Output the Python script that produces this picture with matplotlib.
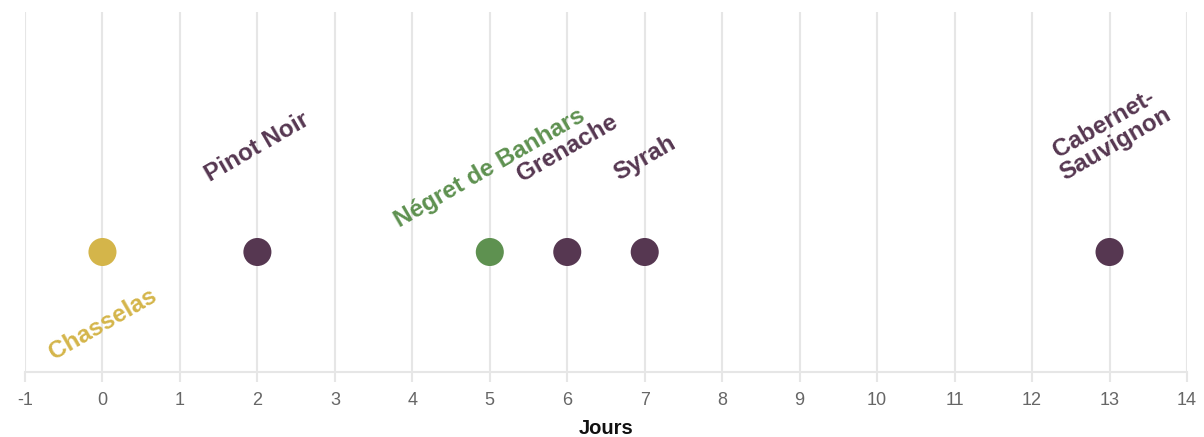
import matplotlib
matplotlib.use("Agg")
import matplotlib.pyplot as plt

# Data
cepages = ["Chasselas", "Pinot Noir", "Négret de Banhars", "Grenache", "Syrah", "Cabernet-\nSauvignon"]
jours = [0, 2, 5, 6, 7, 13]
couleurs = ["#d4b54a", "#563751", "#5e9150", "#563751", "#563751", "#563751"]
x_ticks = list(range(-1, 15))
x_label = "Jours"

# label offsets (pixels, center of rotated label relative to point)
label_dy = [-72, 105, 84, 104, 94, 118]

plt.rcParams['font.family'] = ['Liberation Sans', 'DejaVu Sans']

W, H = 1204, 437
fig = plt.figure(figsize=(W / 100, H / 100), dpi=100)
ax = fig.add_axes([25 / W, (H - 372) / H, (1187 - 25) / W, (372 - 12) / H])

ax.set_xlim(-1, 14)
ax.set_ylim(-1, 2)
grid_c = "#e6e6e6"
ax.set_xticks(x_ticks)
ax.set_xticklabels([str(t) for t in x_ticks])
ax.grid(axis="x", color=grid_c, linewidth=1.5)
ax.set_axisbelow(True)
ax.set_yticks([])
for s in ["top", "right", "left"]:
    ax.spines[s].set_visible(False)
ax.spines["bottom"].set_color(grid_c)
ax.spines["bottom"].set_linewidth(1.5)
ax.tick_params(axis="x", length=7.5, width=1.5, color=grid_c, labelcolor="#666666",
               labelsize=13, pad=7)
ax.set_xlabel(x_label, fontsize=14.5, fontweight="bold", color="#111111", labelpad=7)

ax.scatter(jours, [0] * len(jours), s=28 ** 2 * 0.52, c=couleurs, zorder=3, linewidths=0)

for name, xv, c, dy in zip(cepages, jours, couleurs, label_dy):
    ax.annotate(name, (xv, 0), xytext=(0, dy * 0.72), textcoords="offset points",
                ha="center", va="center", rotation=30, rotation_mode="anchor",
                multialignment="center", fontsize=17.5, fontweight="bold", color=c,
                linespacing=1.05, zorder=4)

fig.savefig("out.png", dpi=100)
